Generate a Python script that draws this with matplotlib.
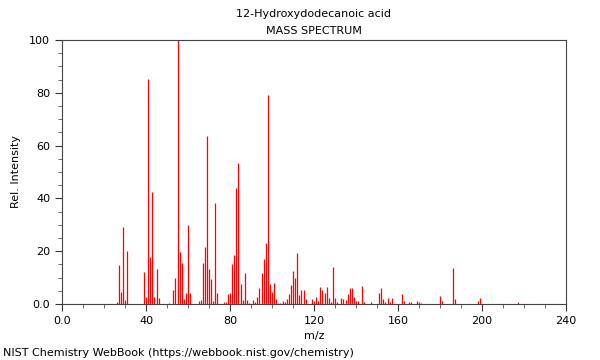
import matplotlib
matplotlib.use("Agg")
import matplotlib.pyplot as plt
from matplotlib.ticker import MultipleLocator, FuncFormatter

mz = [26, 27, 28, 29, 30, 31,
      39, 40, 41, 42, 43, 44, 45, 46,
      51, 53, 54, 55, 56, 57, 58, 59, 60, 61,
      65, 66, 67, 68, 69, 70, 71, 72, 73, 74,
      77, 78, 79, 80, 81, 82, 83, 84, 85, 86, 87, 88, 89,
      91, 92, 93, 94, 95, 96, 97, 98, 99, 100, 101, 102, 103, 104,
      105, 106, 107, 108, 109, 110, 111, 112, 113, 114, 115, 116,
      119, 120, 121, 122, 123, 124, 125, 126, 127, 128, 129, 130, 131,
      133, 134, 135, 136, 137, 138, 139, 140, 141, 143, 144, 147,
      151, 152, 153, 154, 155, 156, 157, 162, 163, 165, 166, 169, 170, 171,
      180, 181, 186, 187, 198, 199, 217]
intensity = [0.6, 14.8, 4.7, 29.3, 1.5, 20.2,
             12.0, 2.8, 85.2, 17.7, 42.6, 2.8, 13.3, 2.3,
             0.5, 5.3, 9.7, 100.0, 19.8, 15.4, 1.8, 4.3, 29.9, 4.0,
             1.1, 1.5, 15.7, 21.5, 63.6, 13.3, 9.5, 1.1, 38.1, 4.0,
             0.6, 0.6, 3.7, 4.0, 15.0, 18.4, 44.1, 53.3, 7.4, 1.5, 11.7, 1.5, 0.3,
             1.5, 0.9, 2.8, 6.2, 11.7, 17.0, 23.2, 79.0, 7.6, 4.7, 7.8, 1.8, 0.5, 0.5,
             1.1, 0.9, 2.0, 3.7, 7.1, 12.4, 9.8, 19.4, 3.4, 5.3, 5.2, 1.9,
             1.9, 1.1, 2.5, 1.1, 6.4, 5.3, 4.2, 6.3, 2.1, 0.6, 14.0, 2.1, 0.6,
             2.4, 2.0, 1.6, 3.8, 5.9, 6.2, 2.5, 1.1, 1.1, 6.9, 0.6, 0.6,
             4.3, 6.2, 1.9, 0.8, 2.1, 0.9, 2.1, 3.8, 1.2, 0.7, 0.7, 1.3, 0.7, 0.4,
             3.0, 1.3, 13.5, 2.0, 1.3, 2.2, 0.6]

title_lines = ["12-Hydroxydodecanoic acid", "MASS SPECTRUM"]
x_label = "m/z"
y_label = "Rel. Intensity"
footer = "NIST Chemistry WebBook (https://webbook.nist.gov/chemistry)"

fig = plt.figure(figsize=(6, 3.6), dpi=100)
ax = fig.add_axes([62/600, 56/360, 504/600, 264/360])

ax.vlines(mz, 0, intensity, colors="red", linewidth=0.9)

ax.set_xlim(0, 240)
ax.set_ylim(0, 100)
ax.xaxis.set_major_locator(MultipleLocator(40))
ax.xaxis.set_minor_locator(MultipleLocator(10))
ax.yaxis.set_major_locator(MultipleLocator(20))
ax.yaxis.set_minor_locator(MultipleLocator(5))
fmt = FuncFormatter(lambda v, p: "0.0" if v == 0 else f"{v:.0f}")
ax.xaxis.set_major_formatter(fmt)
ax.yaxis.set_major_formatter(fmt)
ax.tick_params(which="major", length=5, width=0.8, labelsize=8, colors="#333333", labelcolor="black")
ax.tick_params(which="minor", length=3, width=0.6, colors="#555555")
ax.tick_params(top=False, right=False)
for s in ax.spines.values():
    s.set_color("#444444")
    s.set_linewidth(0.8)

ax.set_xlabel(x_label, fontsize=8, labelpad=4)
ax.set_ylabel(y_label, fontsize=8, labelpad=6)

fig.text(314/600, 1 - 14/360, title_lines[0], ha="center", va="center", fontsize=8)
fig.text(314/600, 1 - 31/360, title_lines[1], ha="center", va="center", fontsize=8)
fig.text(3/600, 1 - 353/360, footer, ha="left", va="center", fontsize=8)

fig.savefig("out.png", dpi=100)
